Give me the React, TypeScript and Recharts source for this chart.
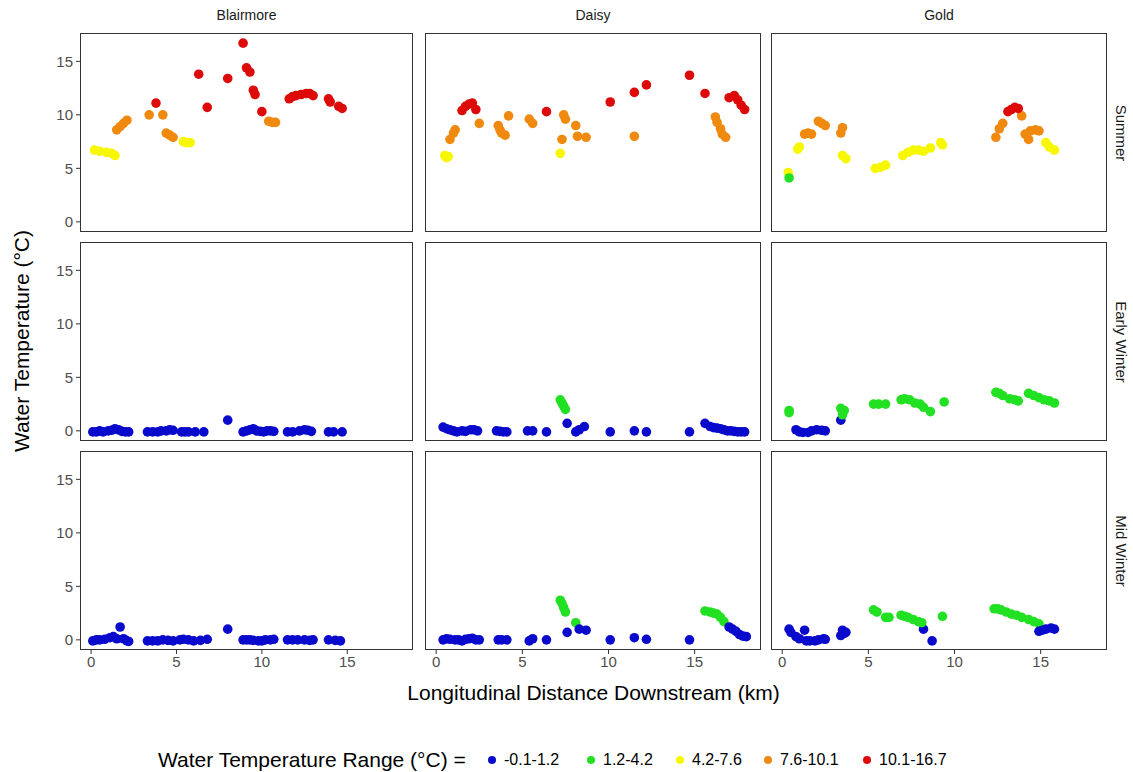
import React from 'react';
import { ScatterChart, Scatter, XAxis, YAxis, Cell } from 'recharts';

type Pt = [number, number];

const sites = ['Blairmore', 'Daisy', 'Gold'];
const seasons = ['Summer', 'Early Winter', 'Mid Winter'];
const rangeLabels = ['-0.1-1.2', '1.2-4.2', '4.2-7.6', '7.6-10.1', '10.1-16.7'];
const rangeUpper = [1.2, 4.2, 7.6, 10.1, 16.7];
const rangeColors = ['#0a0acc', '#22e022', '#f7f700', '#ef8a0f', '#dd0a0a'];
const xTicks = [0, 5, 10, 15];
const yTicks = [0, 5, 10, 15];

// distance downstream (km), water temperature (°C)
const blairmoreSummer: Pt[] = [
  [0.2, 6.7], [0.5, 6.6], [0.9, 6.5], [1.2, 6.4], [1.4, 6.2],
  [1.5, 8.6], [1.7, 8.9], [1.9, 9.2], [2.1, 9.5],
  [3.4, 10.0], [3.8, 11.1], [4.2, 10.0], [4.4, 8.3], [4.6, 8.1], [4.8, 7.9],
  [5.4, 7.5], [5.6, 7.4], [5.8, 7.4],
  [6.3, 13.8], [6.8, 10.7], [8.0, 13.4], [8.9, 16.7], [9.1, 14.4], [9.3, 14.0],
  [9.5, 12.3], [9.6, 11.9], [10.0, 10.3],
  [10.4, 9.4], [10.6, 9.3], [10.8, 9.3],
  [11.6, 11.5], [11.8, 11.7], [12.0, 11.8], [12.3, 11.9], [12.6, 12.0], [12.8, 12.0], [13.0, 11.8],
  [13.9, 11.5], [14.0, 11.2], [14.5, 10.8], [14.7, 10.6],
];
const blairmoreEarly: Pt[] = [
  [0.1, -0.1], [0.3, -0.1], [0.5, 0], [0.7, -0.1], [1.0, 0], [1.2, 0.05], [1.4, 0.2],
  [1.6, 0.1], [1.8, -0.05], [2.0, -0.1], [2.2, -0.1],
  [3.3, -0.1], [3.6, -0.1], [3.9, -0.1], [4.1, 0], [4.4, 0], [4.6, 0.1], [4.8, 0.05],
  [5.3, -0.1], [5.5, -0.1], [5.7, -0.1], [6.1, -0.1], [6.6, -0.1],
  [8.0, 1.0],
  [8.9, -0.1], [9.1, 0], [9.3, 0.1], [9.5, 0.2], [9.7, 0], [9.9, -0.05], [10.1, -0.1], [10.3, 0], [10.5, 0], [10.7, -0.05],
  [11.5, -0.1], [11.8, -0.1], [12.2, 0], [12.5, 0.1], [12.7, 0.05], [12.9, -0.05],
  [13.9, -0.1], [14.2, -0.1], [14.7, -0.1],
];
const blairmoreMid: Pt[] = [
  [0.1, -0.1], [0.3, 0], [0.5, 0], [0.8, 0.05], [1.1, 0.2], [1.3, 0.3], [1.5, 0.1],
  [1.7, 1.2], [1.9, 0.1], [2.1, -0.1], [2.2, -0.15],
  [3.3, -0.1], [3.6, -0.1], [3.9, -0.1], [4.2, 0], [4.5, -0.05], [4.8, -0.1],
  [5.2, 0], [5.4, 0.05], [5.7, 0], [6.0, -0.1], [6.4, -0.05], [6.8, 0.05],
  [8.0, 1.0],
  [8.9, 0], [9.1, 0], [9.3, 0], [9.5, -0.05], [9.8, -0.1], [10.0, -0.1], [10.2, 0], [10.5, 0], [10.7, 0.05],
  [11.5, 0], [11.8, 0], [12.1, 0], [12.5, 0], [12.8, -0.05], [13.0, 0],
  [13.9, 0], [14.3, -0.05], [14.6, -0.1],
];

const daisySummer: Pt[] = [
  [0.5, 6.2], [0.6, 6.0], [0.7, 6.1], [0.8, 7.7], [1.0, 8.3], [1.1, 8.6],
  [1.5, 10.4], [1.7, 10.8], [1.9, 11.0], [2.1, 11.1], [2.3, 10.5],
  [2.5, 9.2], [3.6, 9.0], [3.7, 8.6], [3.8, 8.3], [4.0, 8.1], [4.2, 9.9], [5.4, 9.6], [5.6, 9.2],
  [6.4, 10.3], [7.4, 10.0], [7.5, 9.6], [7.2, 6.4], [7.3, 7.7], [8.1, 9.0], [8.2, 8.0], [8.7, 7.9],
  [10.1, 11.2], [11.5, 8.0], [11.5, 12.1], [12.2, 12.8], [14.7, 13.7], [15.6, 12.0],
  [16.2, 9.8], [16.3, 9.3], [16.5, 8.7], [16.6, 8.2], [16.8, 7.9],
  [17.0, 11.6], [17.3, 11.8], [17.5, 11.4], [17.7, 10.9], [17.9, 10.5],
];
const daisyEarly: Pt[] = [
  [0.4, 0.35], [0.6, 0.2], [0.8, 0.1], [1.0, 0], [1.2, -0.1], [1.5, 0], [1.7, -0.05], [2.0, 0.1], [2.2, 0.1], [2.4, 0],
  [3.5, 0], [3.7, -0.05], [3.9, -0.1], [4.1, -0.1],
  [5.3, 0], [5.6, 0], [6.4, -0.1],
  [7.2, 2.9], [7.3, 2.6], [7.4, 2.3], [7.5, 2.0],
  [7.6, 0.7], [8.1, -0.1], [8.3, 0.1], [8.6, 0.4],
  [10.1, -0.1], [11.5, 0], [12.2, -0.1], [14.7, -0.1], [15.6, 0.7],
  [15.9, 0.4], [16.1, 0.3], [16.3, 0.25], [16.5, 0.2], [16.7, 0.1], [16.9, 0], [17.1, 0],
  [17.3, -0.05], [17.5, -0.1], [17.7, -0.1], [17.9, -0.1],
];
const daisyMid: Pt[] = [
  [0.4, 0], [0.6, 0.1], [0.8, 0.05], [1.1, 0], [1.3, 0], [1.5, -0.1], [1.7, 0.05], [1.9, 0.1], [2.1, 0.15], [2.3, 0], [2.5, 0],
  [3.6, 0], [3.8, 0], [4.1, 0], [5.4, -0.1], [5.6, 0.1], [6.4, 0],
  [7.2, 3.7], [7.3, 3.4], [7.4, 3.0], [7.5, 2.6], [8.1, 1.6],
  [7.6, 0.7], [8.3, 1.0], [8.7, 0.9],
  [10.1, 0], [11.5, 0.2], [12.2, 0.05], [14.7, 0],
  [15.6, 2.7], [15.9, 2.6], [16.1, 2.5], [16.3, 2.4], [16.5, 2.1], [16.7, 1.7],
  [17.0, 1.2], [17.2, 1.0], [17.4, 0.8], [17.6, 0.5], [17.8, 0.35], [18.0, 0.3],
];

const goldSummer: Pt[] = [
  [0.35, 4.6], [0.4, 4.1], [0.9, 6.8], [1.0, 7.0], [1.3, 8.2], [1.5, 8.3], [1.7, 8.2],
  [2.1, 9.4], [2.3, 9.2], [2.5, 9.0],
  [3.5, 8.8], [3.4, 8.3], [3.5, 6.2], [3.7, 5.9], [5.4, 5.0], [5.7, 5.1], [6.0, 5.3],
  [7.0, 6.2], [7.3, 6.5], [7.6, 6.7], [7.9, 6.7], [8.2, 6.6], [8.6, 6.9], [9.2, 7.4], [9.3, 7.2],
  [12.4, 7.9], [12.6, 8.7], [12.8, 9.2], [13.9, 9.9],
  [13.1, 10.3], [13.3, 10.5], [13.5, 10.7], [13.7, 10.6],
  [14.3, 7.7], [14.1, 8.2], [14.4, 8.5], [14.7, 8.6], [14.9, 8.5],
  [15.3, 7.4], [15.5, 7.0], [15.8, 6.7],
];
const goldEarly: Pt[] = [
  [0.4, 1.9], [0.4, 1.7], [0.8, 0.1], [1.0, -0.1], [1.2, -0.15], [1.5, -0.15], [1.7, 0], [2.0, 0.1], [2.3, 0.05], [2.5, 0],
  [3.4, 1.0], [3.4, 2.1], [3.6, 1.9], [3.5, 1.5],
  [5.3, 2.5], [5.6, 2.5], [6.0, 2.5],
  [6.9, 2.9], [7.1, 3.0], [7.4, 2.9], [7.7, 2.6], [8.0, 2.5], [8.2, 2.2], [8.6, 1.8], [9.4, 2.7],
  [12.4, 3.6], [12.6, 3.5], [12.8, 3.3], [13.2, 3.0], [13.5, 2.9], [13.7, 2.8],
  [14.3, 3.5], [14.6, 3.3], [14.9, 3.1], [15.2, 2.9], [15.5, 2.8], [15.8, 2.6],
];
const goldMid: Pt[] = [
  [0.4, 1.0], [0.5, 0.7], [0.8, 0.3], [1.0, 0.1], [1.3, 0.9], [1.4, -0.1], [1.6, -0.1], [1.9, -0.1],
  [2.1, 0], [2.4, 0.1], [2.5, 0.05],
  [3.4, 0.4], [3.5, 0.9], [3.6, 0.6], [3.7, 0.7],
  [5.3, 2.8], [5.5, 2.6], [6.0, 2.1], [6.2, 2.1],
  [8.2, 1.0], [8.7, -0.1],
  [6.9, 2.3], [7.1, 2.2], [7.3, 2.1], [7.6, 1.9], [7.9, 1.7], [8.1, 1.6], [9.3, 2.2],
  [12.3, 2.9], [12.5, 2.9], [12.7, 2.8], [13.0, 2.6], [13.3, 2.4], [13.6, 2.3], [13.9, 2.1],
  [14.3, 1.9], [14.6, 1.7], [14.9, 1.5],
  [14.9, 0.8], [15.1, 0.9], [15.3, 1.0], [15.6, 1.1], [15.8, 1.0],
];

// rows = seasons, columns = sites
const panels: Pt[][][] = [
  [blairmoreSummer, daisySummer, goldSummer],
  [blairmoreEarly, daisyEarly, goldEarly],
  [blairmoreMid, daisyMid, goldMid],
];

const xDomain = [-0.65, 18.85];
const yDomain = [-0.95, 17.65];
const panelLeft = [80, 425, 771];
const panelW = [333, 336, 336];
const panelTop = [33, 242, 451];
const panelH = 199;
const font = '"Liberation Sans", Arial, sans-serif';

const colorFor = (t: number) => {
  const i = rangeUpper.findIndex((u) => t <= u);
  return rangeColors[i < 0 ? rangeColors.length - 1 : i];
};

const Dot = (props: any) => <circle cx={props.cx} cy={props.cy} r={4.8} fill={props.fill} />;

function Panel({ data, row, col }: { data: Pt[]; row: number; col: number }) {
  const showY = col === 0;
  const showX = row === 2;
  const yW = showY ? 44 : 0;
  const xH = showX ? 28 : 0;
  const w = panelW[col] + yW;
  const h = panelH + xH;
  const pts = data.map(([x, y]) => ({ x, y, fill: colorFor(y) }));

  return (
    <div style={{ position: 'absolute', left: panelLeft[col] - yW, top: panelTop[row], width: w, height: h }}>
      <ScatterChart width={w} height={h} margin={{ top: 0, right: 0, bottom: 0, left: 0 }}>
        <XAxis
          type="number"
          dataKey="x"
          domain={xDomain}
          ticks={xTicks}
          interval={0}
          allowDataOverflow
          hide={!showX}
          height={xH}
          axisLine={false}
          tickLine={{ stroke: '#333' }}
          tickSize={4}
          tickMargin={2}
          tick={{ fill: '#4d4d4d', fontSize: 15, fontFamily: font }}
        />
        <YAxis
          type="number"
          dataKey="y"
          domain={yDomain}
          ticks={yTicks}
          interval={0}
          allowDataOverflow
          hide={!showY}
          width={yW}
          axisLine={false}
          tickLine={{ stroke: '#333' }}
          tickSize={4}
          tickMargin={3}
          tick={{ fill: '#4d4d4d', fontSize: 15, fontFamily: font }}
        />
        <Scatter data={pts} isAnimationActive={false} shape={Dot}>
          {pts.map((p, i) => (
            <Cell key={i} fill={p.fill} />
          ))}
        </Scatter>
      </ScatterChart>
      <div
        style={{
          position: 'absolute',
          left: yW,
          top: 0,
          width: panelW[col],
          height: panelH,
          border: '1px solid #333',
          boxSizing: 'border-box',
          pointerEvents: 'none',
        }}
      />
    </div>
  );
}

const legendDotX = [492, 591, 680, 768, 867];

export default function App() {
  return (
    <div
      style={{
        position: 'absolute',
        left: 0,
        top: 0,
        width: 1133,
        height: 772,
        background: '#fff',
        fontFamily: font,
        overflow: 'hidden',
      }}
    >
      {panels.map((rowData, r) =>
        rowData.map((d, c) => <Panel key={`${r}-${c}`} data={d} row={r} col={c} />)
      )}

      {sites.map((s, c) => (
        <div
          key={s}
          style={{
            position: 'absolute',
            left: panelLeft[c],
            width: panelW[c],
            top: 5,
            lineHeight: '20px',
            textAlign: 'center',
            fontSize: 14,
            color: '#1a1a1a',
          }}
        >
          {s}
        </div>
      ))}

      {seasons.map((s, r) => (
        <div
          key={s}
          style={{
            position: 'absolute',
            left: 1120 - panelH / 2,
            top: panelTop[r] + panelH / 2 - 10,
            width: panelH,
            height: 20,
            lineHeight: '20px',
            textAlign: 'center',
            fontSize: 15,
            color: '#1a1a1a',
            transform: 'rotate(90deg)',
          }}
        >
          {s}
        </div>
      ))}

      <div
        style={{
          position: 'absolute',
          left: 22 - 200,
          top: 341 - 13,
          width: 400,
          height: 26,
          lineHeight: '26px',
          textAlign: 'center',
          fontSize: 21,
          color: '#000',
          transform: 'rotate(-90deg)',
        }}
      >
        Water Temperature (°C)
      </div>

      <div
        style={{
          position: 'absolute',
          left: 80,
          width: 1027,
          top: 680,
          lineHeight: '26px',
          textAlign: 'center',
          fontSize: 21,
          color: '#000',
        }}
      >
        Longitudinal Distance Downstream (km)
      </div>

      <div style={{ position: 'absolute', left: 158, top: 747, lineHeight: '26px', fontSize: 21, color: '#000' }}>
        Water Temperature Range (°C) =
      </div>
      {rangeLabels.map((lab, i) => (
        <React.Fragment key={lab}>
          <div
            style={{
              position: 'absolute',
              left: legendDotX[i] - 4,
              top: 756,
              width: 8,
              height: 8,
              borderRadius: 4,
              background: rangeColors[i],
            }}
          />
          <div
            style={{
              position: 'absolute',
              left: legendDotX[i] + 12,
              top: 749,
              lineHeight: '22px',
              fontSize: 16,
              color: '#000',
            }}
          >
            {lab}
          </div>
        </React.Fragment>
      ))}
    </div>
  );
}
